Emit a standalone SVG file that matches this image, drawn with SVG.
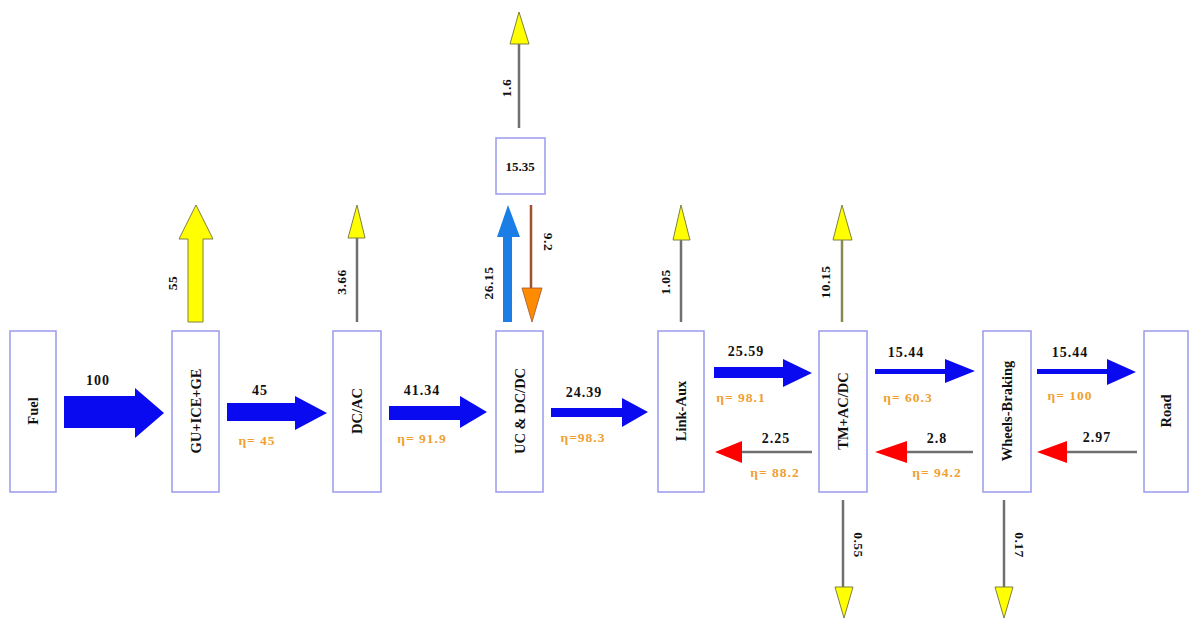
<svg xmlns="http://www.w3.org/2000/svg" width="1189" height="621" viewBox="0 0 1189 621">
<style>
.box{fill:#fff;stroke:#9a9aee;stroke-width:1.5}
.nl{font-family:"Liberation Serif",serif;font-weight:bold;font-size:14.5px;fill:#111;text-anchor:middle;dominant-baseline:central}
.fl{font-family:"Liberation Serif",serif;font-weight:bold;font-size:14px;letter-spacing:1px;fill:#111;text-anchor:middle}
.eta{font-family:"Liberation Serif",serif;font-weight:bold;font-size:13.5px;letter-spacing:1px;fill:#f0a030;text-anchor:middle}
.vl{font-family:"Liberation Serif",serif;font-weight:bold;font-size:13.5px;letter-spacing:0.5px;fill:#111;text-anchor:middle;dominant-baseline:central}
.blue{fill:#0a0af0}
.yel{fill:#ffff00;stroke:#808040;stroke-width:1}
.gl{stroke:#707070;stroke-width:2.5;fill:none}
.red{fill:#ff0000}
</style>
<rect width="1189" height="621" fill="#fff"/>
<g id="connectors">
  <polygon class="blue" points="64,396 135,396 135,388 164,413 135,438 135,428 64,428"/>
  <polygon class="blue" points="227,403 295,403 295,396 327,413 295,430 295,421 227,421"/>
  <polygon class="blue" points="389,406 460,406 460,396 487,412 460,428 460,420 389,420"/>
  <polygon class="blue" points="551,408 622,408 622,398 648,412 622,427 622,417 551,417"/>
  <polygon class="blue" points="714,367 783,367 783,359 812,373 783,387 783,378 714,378"/>
  <polygon class="blue" points="875,369 945,369 945,359 975,371 945,383 945,374 875,374"/>
  <polygon class="blue" points="1037,369 1107,369 1107,359 1136,372 1107,385 1107,374 1037,374"/>
  <line class="gl" x1="812" y1="452" x2="740" y2="452"/>
  <polygon class="red" points="742,441 715,452 742,463"/>
  <line class="gl" x1="973" y1="452" x2="905" y2="452"/>
  <polygon class="red" points="907,441 875,452 907,463"/>
  <line class="gl" x1="1137" y1="452" x2="1065" y2="452"/>
  <polygon class="red" points="1067,441 1037,452 1067,463"/>
  <polygon class="yel" points="188,322 188,239 179,239 196,205 213,239 203,239 203,322"/>
  <line class="gl" x1="357" y1="322" x2="357" y2="238" stroke-width="2"/>
  <polygon class="yel" points="348,238 357,205 365,238"/>
  <polygon fill="#1a7ee6" points="503,322 503,237 497,237 508,205 520,237 512,237 512,322"/>
  <line x1="531" y1="205" x2="531" y2="288" stroke="#a0522d" stroke-width="2.5"/>
  <polygon fill="#ff8c00" stroke="#a0522d" stroke-width="0.8" points="522,288 542,288 532,322"/>
  <line class="gl" x1="519" y1="128" x2="519" y2="44" stroke-width="2"/>
  <polygon class="yel" points="510,44 519,12 529,44"/>
  <line class="gl" x1="681" y1="322" x2="681" y2="240"/>
  <polygon class="yel" points="673,240 681,205 690,240"/>
  <line x1="842" y1="322" x2="842" y2="240" stroke="#8a8a50" stroke-width="2.5"/>
  <polygon class="yel" points="833,240 842,205 852,240"/>
  <line class="gl" x1="843" y1="500" x2="843" y2="587" stroke-width="1.5"/>
  <polygon class="yel" points="835,587 853,587 844,618"/>
  <line class="gl" x1="1004" y1="500" x2="1004" y2="587" stroke-width="1.5"/>
  <polygon class="yel" points="995,587 1013,587 1004,618"/>
  <text class="fl" x="98" y="385">100</text>
  <text class="fl" x="260" y="395">45</text>
  <text class="eta" x="257" y="445">η= 45</text>
  <text class="fl" x="422" y="395">41.34</text>
  <text class="eta" x="422" y="443">η= 91.9</text>
  <text class="fl" x="584" y="397">24.39</text>
  <text class="eta" x="583" y="442">η=98.3</text>
  <text class="fl" x="746" y="356">25.59</text>
  <text class="eta" x="741" y="402">η= 98.1</text>
  <text class="fl" x="906" y="357">15.44</text>
  <text class="eta" x="908" y="402">η= 60.3</text>
  <text class="fl" x="1070" y="357">15.44</text>
  <text class="eta" x="1070" y="400">η= 100</text>
  <text class="fl" x="776" y="443">2.25</text>
  <text class="eta" x="775" y="477">η= 88.2</text>
  <text class="fl" x="937" y="443">2.8</text>
  <text class="eta" x="937" y="477">η= 94.2</text>
  <text class="fl" x="1097" y="442">2.97</text>
  <text class="vl" transform="translate(172,283) rotate(-90)">55</text>
  <text class="vl" transform="translate(341,282) rotate(-90)">3.66</text>
  <text class="vl" transform="translate(488,283) rotate(-90)">26.15</text>
  <text class="vl" transform="translate(506,88) rotate(-90)">1.6</text>
  <text class="vl" transform="translate(548,242) rotate(90)">9.2</text>
  <text class="vl" transform="translate(665,282) rotate(-90)">1.05</text>
  <text class="vl" transform="translate(825,282) rotate(-90)">10.15</text>
  <text class="vl" transform="translate(858,545) rotate(90)">0.55</text>
  <text class="vl" transform="translate(1019,545) rotate(90)">0.17</text>
</g>
<g id="fuel"><rect class="box" x="10" y="331" width="46" height="161"/><text class="nl" transform="translate(33,411) rotate(-90)">Fuel</text></g>
<g id="gu"><rect class="box" x="172" y="331" width="47" height="161"/><text class="nl" transform="translate(195.5,411) rotate(-90)">GU+ICE+GE</text></g>
<g id="dcac"><rect class="box" x="333" y="331" width="48" height="161"/><text class="nl" transform="translate(357,411) rotate(-90)">DC/AC</text></g>
<g id="uc"><rect class="box" x="496" y="331" width="47" height="161"/><text class="nl" transform="translate(519.5,411) rotate(-90)">UC &amp; DC/DC</text></g>
<g id="uc-store"><rect class="box" x="496" y="138" width="49" height="56"/><text class="vl" x="520" y="166" style="font-size:13px;letter-spacing:0">15.35</text></g>
<g id="link"><rect class="box" x="658" y="331" width="46" height="161"/><text class="nl" transform="translate(681,411) rotate(-90)">Link-Aux</text></g>
<g id="tm"><rect class="box" x="819" y="331" width="48" height="161"/><text class="nl" transform="translate(843,411) rotate(-90)">TM+AC/DC</text></g>
<g id="wheels"><rect class="box" x="983" y="331" width="48" height="161"/><text class="nl" transform="translate(1007,411) rotate(-90)">Wheels-Braking</text></g>
<g id="road"><rect class="box" x="1144" y="331" width="44" height="161"/><text class="nl" transform="translate(1166,411) rotate(-90)">Road</text></g>
</svg>
